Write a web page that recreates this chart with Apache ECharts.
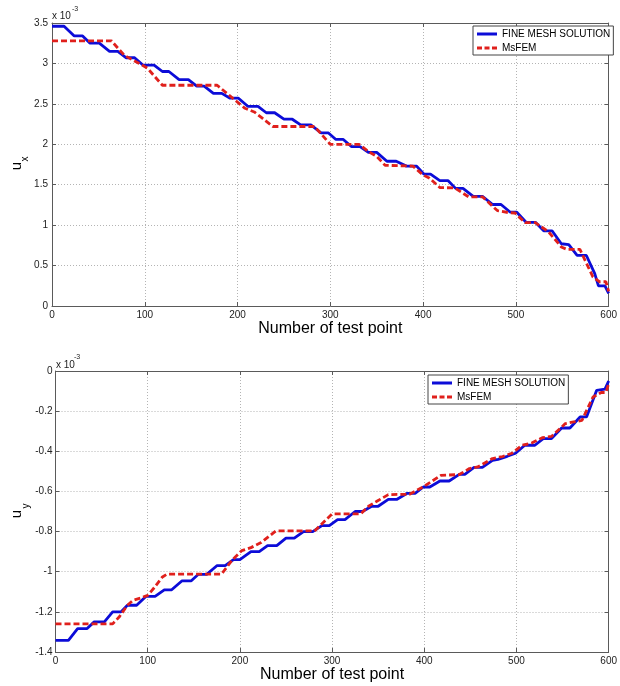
<!DOCTYPE html>
<html>
<head>
<meta charset="utf-8">
<script src="https://cdn.jsdelivr.net/npm/echarts@6/dist/echarts.min.js"></script>
<style>html,body{margin:0;padding:0;background:#fff;}#c{width:620px;height:686px;}</style>
</head>
<body>
<div id="c"></div>
<script>
// ---- data (values in units of 1e-3) ----
const seriesNames = ['FINE MESH SOLUTION', 'MsFEM'];
const xTicks = [0, 100, 200, 300, 400, 500, 600];
const uxTicks = [0, 0.5, 1, 1.5, 2, 2.5, 3, 3.5];
const uyTicks = [-1.4, -1.2, -1, -0.8, -0.6, -0.4, -0.2, 0];

const uxFine = [[0,3.46],[13,3.46],[24,3.34],[33,3.34],[41,3.25],[51,3.25],[62,3.15],[71,3.15],[80,3.07],[89,3.07],[98,2.98],[110,2.98],[119,2.90],[126,2.90],[137,2.80],[147,2.80],[156,2.72],[164,2.72],[174,2.63],[183,2.63],[192,2.57],[201,2.57],[211,2.47],[222,2.47],[231,2.39],[240,2.39],[250,2.31],[259,2.31],[268,2.24],[279,2.24],[290,2.14],[298,2.14],[306,2.06],[314,2.06],[323,1.97],[332,1.97],[341,1.90],[350,1.90],[361,1.79],[371,1.79],[382,1.73],[393,1.73],[401,1.63],[408,1.63],[418,1.55],[427,1.55],[435,1.455],[443,1.455],[454,1.355],[464,1.355],[475,1.255],[484,1.255],[494,1.16],[501,1.16],[511,1.035],[521,1.035],[530,0.93],[539,0.93],[549,0.77],[557,0.76],[566,0.625],[576,0.625],[585,0.40],[589,0.25],[596,0.25],[600,0.155]];
const uxMs = [[0,3.28],[64,3.28],[78,3.10],[94,3.00],[103,2.94],[119,2.73],[178,2.73],[197,2.55],[208,2.445],[218,2.40],[227,2.32],[238,2.22],[283,2.22],[300,2.00],[331,2.00],[341,1.91],[350,1.85],[359,1.74],[389,1.73],[400,1.62],[407,1.58],[418,1.465],[434,1.46],[449,1.35],[464,1.35],[480,1.18],[492,1.155],[499,1.15],[510,1.03],[521,1.03],[535,0.92],[549,0.73],[555,0.70],[569,0.70],[583,0.36],[590,0.30],[597,0.30],[600,0.18]];
const uyFine = [[0,-1.342],[14,-1.342],[24,-1.284],[34,-1.284],[42,-1.25],[53,-1.25],[62,-1.20],[71,-1.20],[78,-1.167],[88,-1.167],[98,-1.123],[108,-1.123],[118,-1.09],[126,-1.09],[137,-1.046],[147,-1.046],[155,-1.013],[164,-1.013],[175,-0.97],[184,-0.97],[193,-0.94],[200,-0.94],[212,-0.90],[221,-0.90],[230,-0.87],[240,-0.87],[250,-0.833],[259,-0.833],[269,-0.80],[279,-0.80],[289,-0.77],[297,-0.77],[306,-0.74],[314,-0.74],[325,-0.70],[333,-0.70],[343,-0.674],[350,-0.674],[361,-0.64],[370,-0.64],[381,-0.61],[390,-0.61],[399,-0.578],[406,-0.578],[417,-0.548],[427,-0.548],[438,-0.515],[444,-0.515],[454,-0.48],[463,-0.48],[474,-0.445],[480,-0.44],[490,-0.425],[499,-0.41],[509,-0.37],[520,-0.37],[529,-0.337],[538,-0.337],[549,-0.284],[558,-0.284],[569,-0.229],[576,-0.229],[587,-0.096],[596,-0.09],[600,-0.05]];
const uyMs = [[0,-1.26],[62,-1.26],[69,-1.226],[78,-1.167],[84,-1.143],[93,-1.13],[100,-1.118],[107,-1.08],[116,-1.026],[121,-1.012],[180,-1.012],[192,-0.94],[202,-0.895],[212,-0.88],[223,-0.855],[239,-0.797],[281,-0.797],[291,-0.752],[300,-0.712],[331,-0.712],[340,-0.672],[349,-0.648],[361,-0.616],[384,-0.614],[400,-0.574],[418,-0.52],[438,-0.516],[449,-0.486],[458,-0.478],[474,-0.436],[485,-0.426],[495,-0.41],[506,-0.37],[517,-0.358],[528,-0.332],[538,-0.326],[553,-0.262],[562,-0.254],[571,-0.246],[583,-0.13],[592,-0.107],[597,-0.107],[600,-0.063]];

// ---- styles ----
const FONT = 'Liberation Sans, Arial, Helvetica, sans-serif';
const BLUE = '#0c0cd8';
const RED = '#e0201c';
const AXIS = '#5a5a5a';
const GRIDC = '#b4b4b4';

function xAxisMain(gi) {
  return {
    type: 'value', gridIndex: gi, position: 'bottom',
    min: xTicks[0], max: xTicks[xTicks.length - 1], interval: xTicks[1] - xTicks[0],
    name: 'Number of test point', nameLocation: 'middle', nameGap: 12,
    nameTextStyle: { fontFamily: FONT, fontSize: 16, color: '#000', verticalAlign: 'top' },
    axisLine: { show: true, onZero: false, lineStyle: { color: AXIS, width: 1 } },
    axisTick: { show: true, inside: true, length: 4, lineStyle: { color: AXIS } },
    axisLabel: { fontFamily: FONT, fontSize: 10, color: '#222', margin: 4 },
    splitLine: { show: true, lineStyle: { color: GRIDC, type: [1, 2], width: 1 } }
  };
}
function xAxisTop(gi) {
  return {
    type: 'value', gridIndex: gi, position: 'top',
    min: xTicks[0], max: xTicks[xTicks.length - 1], interval: xTicks[1] - xTicks[0],
    axisLine: { show: true, onZero: false, lineStyle: { color: AXIS, width: 1 } },
    axisTick: { show: true, inside: true, length: 4, lineStyle: { color: AXIS } },
    axisLabel: { show: false }, splitLine: { show: false }
  };
}
function yAxisMain(gi, ticks, margin) {
  return {
    type: 'value', gridIndex: gi, position: 'left',
    min: ticks[0], max: ticks[ticks.length - 1], interval: +(ticks[1] - ticks[0]).toFixed(6),
    axisLine: { show: true, onZero: false, lineStyle: { color: AXIS, width: 1 } },
    axisTick: { show: true, inside: true, length: 4, lineStyle: { color: AXIS } },
    axisLabel: { fontFamily: FONT, fontSize: 10, color: '#222', margin: margin,
      formatter: v => String(+v.toFixed(4)) },
    splitLine: { show: true, lineStyle: { color: GRIDC, type: [1, 2], width: 1 } }
  };
}
function yAxisRight(gi, ticks) {
  return {
    type: 'value', gridIndex: gi, position: 'right',
    min: ticks[0], max: ticks[ticks.length - 1], interval: +(ticks[1] - ticks[0]).toFixed(6),
    axisLine: { show: true, onZero: false, lineStyle: { color: AXIS, width: 1 } },
    axisTick: { show: true, inside: true, length: 4, lineStyle: { color: AXIS } },
    axisLabel: { show: false }, splitLine: { show: false }
  };
}
function lineSeries(name, data, xi, yi, color, dashed) {
  return {
    name: name, type: 'line', xAxisIndex: xi, yAxisIndex: yi, data: data,
    symbol: 'none', showSymbol: false, smooth: false,
    lineStyle: { color: color, width: 2.8, type: dashed ? [6, 3] : 'solid' },
    itemStyle: { color: color },
    emphasis: { disabled: true }
  };
}
function legendAt(left, top) {
  return {
    data: [
      { name: seriesNames[0], icon: 'path://M0,0L0,0ZM0,3.6H20V6.4H0ZM0,10L0,10Z' },
      { name: seriesNames[1], icon: 'path://M0,0L0,0ZM0,3.6H5V6.4H0ZM7.5,3.6H12.5V6.4H7.5ZM15,3.6H20V6.4H15ZM0,10L0,10Z' }
    ],
    orient: 'vertical', left: left, top: top,
    itemWidth: 20, itemHeight: 10, itemGap: 4,
    padding: [3, 3, 2, 4],
    backgroundColor: '#fff', borderColor: '#444', borderWidth: 1, borderRadius: 0,
    textStyle: { fontFamily: FONT, fontSize: 10, color: '#000' },
    selectedMode: false
  };
}

const chart = echarts.init(document.getElementById('c'), null, { renderer: 'canvas' });
chart.setOption({
  animation: false,
  backgroundColor: '#fff',
  grid: [
    { left: 52, right: 6, top: 23, height: 283, show: false },
    { left: 55.5, right: 6, top: 371, height: 281, show: false }
  ],
  xAxis: [xAxisMain(0), xAxisTop(0), xAxisMain(1), xAxisTop(1)],
  yAxis: [yAxisMain(0, uxTicks, 4), yAxisRight(0, uxTicks), yAxisMain(1, uyTicks, 3), yAxisRight(1, uyTicks)],
  legend: [legendAt(473, 26), legendAt(428, 375)],
  series: [
    lineSeries(seriesNames[0], uxFine, 0, 0, BLUE, false),
    lineSeries(seriesNames[1], uxMs, 0, 0, RED, true),
    lineSeries(seriesNames[0], uyFine, 2, 2, BLUE, false),
    lineSeries(seriesNames[1], uyMs, 2, 2, RED, true)
  ],
  graphic: [
    { type: 'text', left: 52, top: 11, style: { text: 'x 10', fontFamily: FONT, fontSize: 10, fill: '#222' } },
    { type: 'text', left: 72, top: 6, style: { text: '-3', fontFamily: FONT, fontSize: 7, fill: '#222' } },
    { type: 'text', left: 56, top: 360, style: { text: 'x 10', fontFamily: FONT, fontSize: 10, fill: '#222' } },
    { type: 'text', left: 74, top: 354, style: { text: '-3', fontFamily: FONT, fontSize: 7, fill: '#222' } },
    { type: 'text', x: 17, y: 166, rotation: Math.PI / 2, style: { text: 'u', fontFamily: FONT, fontSize: 15, fill: '#000', align: 'center', verticalAlign: 'middle' } },
    { type: 'text', x: 25, y: 159, rotation: Math.PI / 2, style: { text: 'x', fontFamily: FONT, fontSize: 10, fill: '#000', align: 'center', verticalAlign: 'middle' } },
    { type: 'text', x: 17, y: 514, rotation: Math.PI / 2, style: { text: 'u', fontFamily: FONT, fontSize: 15, fill: '#000', align: 'center', verticalAlign: 'middle' } },
    { type: 'text', x: 26, y: 506, rotation: Math.PI / 2, style: { text: 'y', fontFamily: FONT, fontSize: 10, fill: '#000', align: 'center', verticalAlign: 'middle' } }
  ]
});
</script>
</body>
</html>
